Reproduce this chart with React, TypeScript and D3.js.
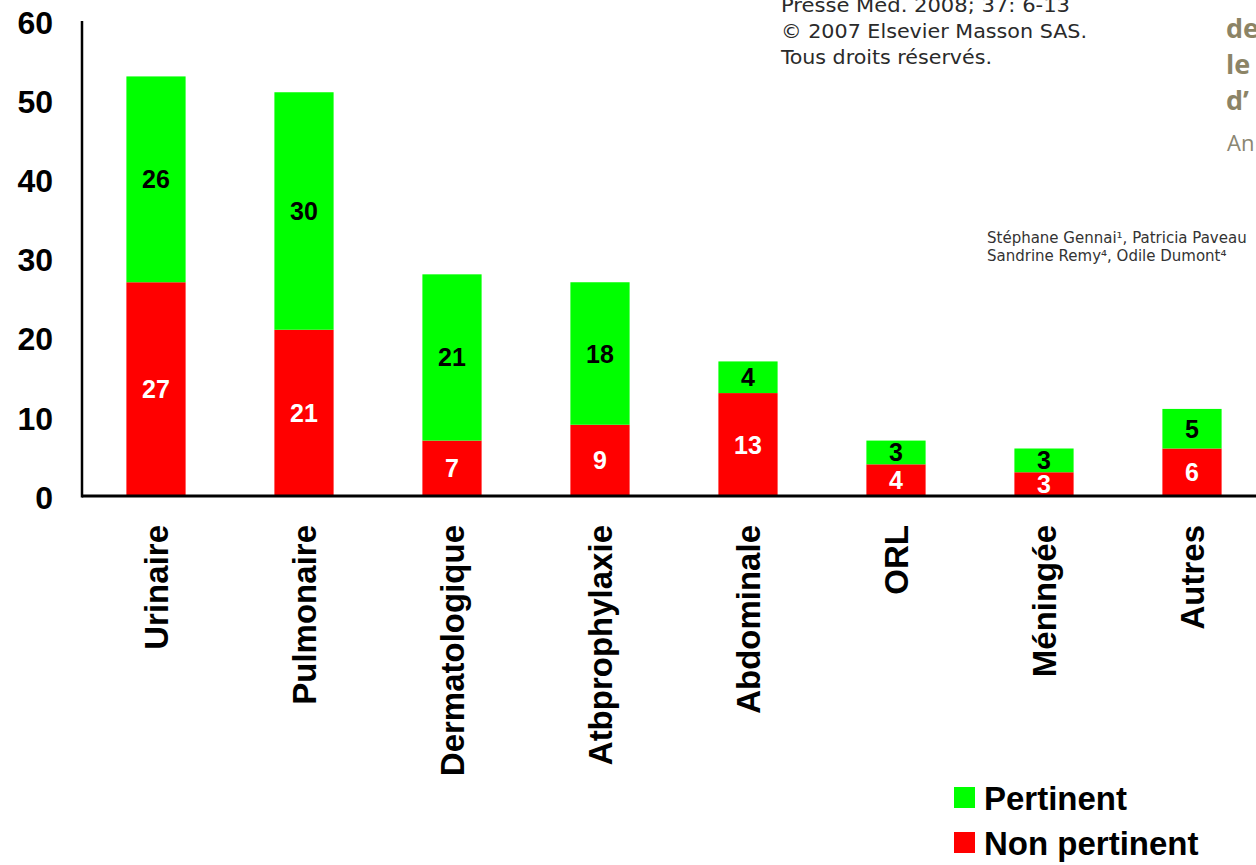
import { useRef, useEffect } from "react";
import * as d3 from "d3";

const categories = [
  "Urinaire",
  "Pulmonaire",
  "Dermatologique",
  "Atbprophylaxie",
  "Abdominale",
  "ORL",
  "Méningée",
  "Autres",
];
const nonPertinent = [27, 21, 7, 9, 13, 4, 3, 6];
const pertinent = [26, 30, 21, 18, 4, 3, 3, 5];
const yTicks = [0, 10, 20, 30, 40, 50, 60];
const seriesNames = ["Non pertinent", "Pertinent"];
const legendOrder = ["Pertinent", "Non pertinent"];

// scraps of the scanned article page that show through in the corner
const headerLines = [
  "Presse Med. 2008; 37: 6-13",
  "© 2007 Elsevier Masson SAS.",
  "Tous droits réservés.",
];
const titleBits = ["de", "le", "d’"];
const authorLines = [
  "Stéphane Gennai¹, Patricia Paveau",
  "Sandrine Remy⁴, Odile Dumont⁴",
];

const W = 1256;
const H = 865;
const font = "'Liberation Sans', Arial, sans-serif";
const colors: Record<string, string> = {
  Pertinent: "#00ff00",
  "Non pertinent": "#ff0000",
};
const labelColor: Record<string, string> = {
  Pertinent: "#000",
  "Non pertinent": "#fff",
};

function App() {
  const ref = useRef<SVGSVGElement | null>(null);

  useEffect(() => {
    if (!ref.current) return;
    const svg = d3.select(ref.current).html("");

    const axisX = 82;
    const x = d3
      .scaleBand<string>()
      .domain(categories)
      .range([axisX, axisX + 148 * categories.length])
      .paddingInner(0.6)
      .paddingOuter(0.3);
    const y = d3.scaleLinear().domain([0, 60]).range([496, 21]);

    const rows = categories.map((c, i) => ({
      cat: c,
      "Non pertinent": nonPertinent[i],
      Pertinent: pertinent[i],
    }));
    const stacked = d3.stack<any>().keys(seriesNames)(rows);

    // bars
    stacked.forEach((layer) => {
      const key = layer.key;
      const g = svg.append("g");
      g.selectAll("rect")
        .data(layer)
        .enter()
        .append("rect")
        .attr("x", (d: any) => x(d.data.cat) as number)
        .attr("width", x.bandwidth())
        .attr("y", (d: any) => y(d[1]))
        .attr("height", (d: any) => y(d[0]) - y(d[1]))
        .attr("fill", colors[key]);

      g.selectAll("text")
        .data(layer)
        .enter()
        .append("text")
        .attr("x", (d: any) => (x(d.data.cat) as number) + x.bandwidth() / 2)
        .attr("y", (d: any) => (y(d[0]) + y(d[1])) / 2)
        .attr("dy", "0.36em")
        .attr("text-anchor", "middle")
        .style("font-family", font)
        .style("font-weight", "bold")
        .style("font-size", "25px")
        .attr("fill", labelColor[key])
        .text((d: any) => d[1] - d[0]);
    });

    // y axis labels
    const ya = svg
      .append("g")
      .attr("transform", `translate(${axisX},0)`)
      .call(d3.axisLeft(y).tickValues(yTicks).tickSize(0).tickPadding(29));
    ya.select(".domain").remove();
    ya.selectAll("text")
      .style("font-family", font)
      .style("font-weight", "bold")
      .style("font-size", "32px")
      .attr("fill", "#000")
      .attr("dy", "0.38em");

    // axis lines
    svg
      .append("line")
      .attr("x1", axisX)
      .attr("x2", axisX)
      .attr("y1", y(60))
      .attr("y2", y(0) + 1.5)
      .attr("stroke", "#000")
      .attr("stroke-width", 2.5);
    svg
      .append("line")
      .attr("x1", axisX)
      .attr("x2", W)
      .attr("y1", y(0))
      .attr("y2", y(0))
      .attr("stroke", "#000")
      .attr("stroke-width", 3);

    // category labels
    svg
      .append("g")
      .selectAll("text")
      .data(categories)
      .enter()
      .append("text")
      .attr(
        "transform",
        (d) => `translate(${(x(d) as number) + x.bandwidth() / 2},525) rotate(-90)`
      )
      .attr("dy", "0.36em")
      .attr("text-anchor", "end")
      .style("font-family", font)
      .style("font-weight", "bold")
      .style("font-size", "33px")
      .attr("fill", "#000")
      .text((d) => d);

    // legend
    const legend = svg
      .selectAll(".legend")
      .data(legendOrder)
      .enter()
      .append("g")
      .attr("class", "legend")
      .attr("transform", (d, i) => `translate(954,${787 + i * 45})`);
    legend
      .append("rect")
      .attr("width", 21)
      .attr("height", 21)
      .attr("fill", (d) => colors[d]);
    legend
      .append("text")
      .attr("x", 30)
      .attr("y", 11)
      .attr("dy", "0.36em")
      .style("font-family", font)
      .style("font-weight", "bold")
      .style("font-size", "33px")
      .attr("fill", "#000")
      .text((d) => d);

    // corner scraps
    svg
      .append("g")
      .selectAll("text")
      .data(headerLines)
      .enter()
      .append("text")
      .attr("x", 781)
      .attr("y", (d, i) => 12 + i * 26)
      .attr("textLength", (d, i) => [289, 306, 211][i])
      .attr("lengthAdjust", "spacingAndGlyphs")
      .style("font-family", "'DejaVu Sans Condensed', 'DejaVu Sans', sans-serif")
      .style("font-size", "19px")
      .attr("fill", "#2a2a2a")
      .text((d) => d);
    svg
      .append("g")
      .selectAll("text")
      .data(titleBits)
      .enter()
      .append("text")
      .attr("x", 1226)
      .attr("y", (d, i) => 38 + i * 36)
      .style("font-family", "'Open Sans', sans-serif")
      .style("font-weight", "bold")
      .style("font-size", "27px")
      .attr("fill", "#8c8466")
      .text((d) => d);
    svg
      .append("text")
      .attr("x", 1227)
      .attr("y", 151)
      .style("font-family", "'Open Sans', sans-serif")
      .style("font-size", "22px")
      .attr("fill", "#8a8672")
      .text("An");
    svg
      .append("g")
      .selectAll("text")
      .data(authorLines)
      .enter()
      .append("text")
      .attr("x", 987)
      .attr("y", (d, i) => 243 + i * 18)
      .style("font-family", "'DejaVu Sans', sans-serif")
      .style("font-size", "15px")
      .attr("fill", "#333")
      .text((d) => d);
  }, []);

  return (
    <svg
      ref={ref}
      width={W}
      height={H}
      style={{ position: "absolute", left: 0, top: 0, background: "#fff" }}
    ></svg>
  );
}
export default App;
